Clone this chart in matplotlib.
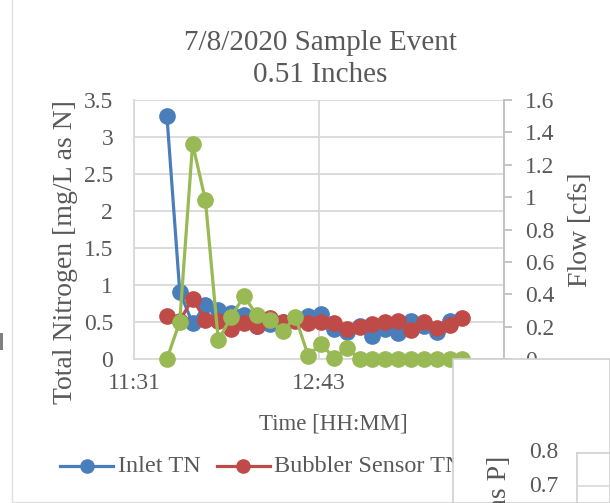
import matplotlib
matplotlib.use("Agg")
import matplotlib.pyplot as plt
import numpy as np
from matplotlib.patches import Rectangle
from matplotlib.lines import Line2D

plt.rcParams['font.family'] = ['Liberation Serif', 'DejaVu Serif']

# ---------------- data ----------------
sample_times = ["11:44", "11:49", "11:54", "11:59", "12:04", "12:09", "12:14", "12:19",
                "12:24", "12:29", "12:34", "12:39", "12:44", "12:49", "12:54", "12:59",
                "13:04", "13:09", "13:14", "13:19", "13:24", "13:29", "13:34", "13:39"]
inlet_tn = [3.29, 0.91, 0.48, 0.73, 0.66, 0.62, 0.60, 0.44, 0.47, 0.50, 0.55, 0.58,
            0.61, 0.40, 0.36, 0.45, 0.31, 0.40, 0.35, 0.51, 0.45, 0.37, 0.51, np.nan]
bubbler_tn = [0.58, 0.52, 0.81, 0.53, 0.52, 0.41, 0.49, 0.45, 0.56, 0.50, 0.52, 0.48,
              0.50, 0.48, 0.40, 0.43, 0.47, 0.50, 0.51, 0.39, 0.50, 0.42, 0.46, 0.55]
flow_cfs = [0.0, 0.23, 1.33, 0.98, 0.115, 0.26, 0.39, 0.27, 0.24, 0.17, 0.26, 0.02,
            0.095, 0.005, 0.066, 0.0, 0.0, 0.0, 0.0, 0.0, 0.0, 0.0, 0.0, 0.0]
x_tick_labels = ["11:31", "12:43", "13:55"]
left_ticks = [0, 0.5, 1, 1.5, 2, 2.5, 3, 3.5]
right_ticks = [0, 0.2, 0.4, 0.6, 0.8, 1, 1.2, 1.4, 1.6]

def to_min(s):
    h, m = s.split(":")
    return int(h) * 60 + int(m)

t = np.array([to_min(s) for s in sample_times], dtype=float)
x_ticks = np.array([691.2, 763.2, 835.2])  # 0.48, 0.53, 0.58 day

TXT = "#595959"
GRID = "#D9D9D9"
BLUE = "#4A7EBB"
RED = "#BE4B48"
GREEN = "#98B954"

W, H = 610, 503
fig = plt.figure(figsize=(W / 100, H / 100), dpi=100)

def fx(px):
    return px / W

def fy(py):
    return 1 - py / H

L, R, T, B = 134, 504, 100, 359
ax = fig.add_axes([fx(L), fy(B), fx(R - L), fy(T) - fy(B)])
ax2 = ax.twinx()

ms = 11
lw = 2.3
ax.plot(t, inlet_tn, color=BLUE, lw=lw, marker='o', ms=ms, zorder=3, clip_on=False)
ax.plot(t, bubbler_tn, color=RED, lw=lw, marker='o', ms=ms, zorder=4, clip_on=False)
ax2.plot(t, flow_cfs, color=GREEN, lw=lw, marker='o', ms=ms, zorder=5, clip_on=False)

ax.set_xlim(x_ticks[0], x_ticks[-1])
ax.set_ylim(0, 3.5)
ax2.set_ylim(0, 1.6)
ax.set_xticks(x_ticks)
ax.set_xticklabels(x_tick_labels)
ax.set_yticks(left_ticks)
ax.set_yticklabels([f"{v:g}" for v in left_ticks])
ax2.set_yticks(right_ticks)
ax2.set_yticklabels([f"{v:g}" for v in right_ticks])

ax.grid(True, color=GRID, lw=1.3)
ax.set_axisbelow(True)
for sp in ['top', 'right']:
    ax.spines[sp].set_visible(False)
ax.spines['left'].set_color(GRID)
ax.spines['bottom'].set_color(GRID)
ax.spines['left'].set_linewidth(1.3)
ax.spines['bottom'].set_linewidth(1.3)
for sp in ['top', 'left', 'bottom']:
    ax2.spines[sp].set_visible(False)
ax2.spines['right'].set_color("#BFBFBF")
ax2.spines['right'].set_linewidth(1.3)

TS = 17
ax.tick_params(axis='y', length=0, labelsize=TS, colors=TXT, pad=15)
ax.tick_params(axis='x', length=0, labelsize=TS, colors=TXT, pad=10)
ax2.tick_params(axis='y', length=6, width=1.3, color="#BFBFBF", labelsize=TS,
                labelcolor=TXT, direction='out', pad=9)

fig.text(fx(66), fy(252), "Total Nitrogen [mg/L as N]", ha='center', va='center',
         rotation=90, fontsize=20, color=TXT)
ax2.set_ylabel("Flow [cfs]", fontsize=20, color=TXT, labelpad=10)
fig.text(fx(333), fy(424), "Time [HH:MM]", ha='center', va='center',
         fontsize=16.5, color=TXT)

fig.text(fx(320), fy(43), "7/8/2020 Sample Event", ha='center', va='center',
         fontsize=21, color=TXT)
fig.text(fx(320), fy(75), "0.51 Inches", ha='center', va='center',
         fontsize=21, color=TXT)

# legend (manual, partially covered by the overlapping chart)
LS = 17.5
ly = fy(466)
fig.add_artist(Line2D([fx(60), fx(113)], [ly, ly], color=BLUE, lw=2.3))
fig.add_artist(Line2D([fx(87)], [ly], color=BLUE, marker='o', ms=9.5))
fig.text(fx(118), ly, "Inlet TN", ha='left', va='center', fontsize=LS, color=TXT)
fig.add_artist(Line2D([fx(217), fx(270)], [ly, ly], color=RED, lw=2.3))
fig.add_artist(Line2D([fx(243)], [ly], color=RED, marker='o', ms=9.5))
fig.text(fx(274), ly, "Bubbler Sensor TN", ha='left', va='center', fontsize=LS, color=TXT)

# chart frame lines
fig.add_artist(Line2D([fx(12), fx(12)], [0, 1], color="#E0E0E0", lw=1))
fig.add_artist(Line2D([fx(12), fx(453)], [fy(502), fy(502)], color="#E0E0E0", lw=1))
fig.add_artist(Rectangle((0, fy(350)), fx(3), fy(333) - fy(350), color="#808080", lw=0))

# overlapping chart in the bottom-right corner
fig.add_artist(Rectangle((fx(453), 0), 1 - fx(453), fy(359), facecolor='white',
                         edgecolor="#D0D0D0", lw=1.2, zorder=10))
fig.add_artist(Line2D([fx(577), fx(577)], [0, fy(453)], color="#D0D0D0", lw=1.2, zorder=11))
fig.add_artist(Line2D([fx(577), 1], [fy(453), fy(453)], color="#D0D0D0", lw=1.2, zorder=11))
fig.add_artist(Line2D([fx(577), 1], [fy(486), fy(486)], color="#D9D9D9", lw=1.2, zorder=11))
fig.text(fx(558), fy(453), "0.8", ha='right', va='center', fontsize=TS, color=TXT, zorder=12)
fig.text(fx(558), fy(486), "0.7", ha='right', va='center', fontsize=TS, color=TXT, zorder=12)
fig.text(fx(499), fy(456), "[mg/L as P]", ha='center', va='top', rotation=90,
         fontsize=20, color=TXT, zorder=12)

fig.savefig("out.png", dpi=100)
